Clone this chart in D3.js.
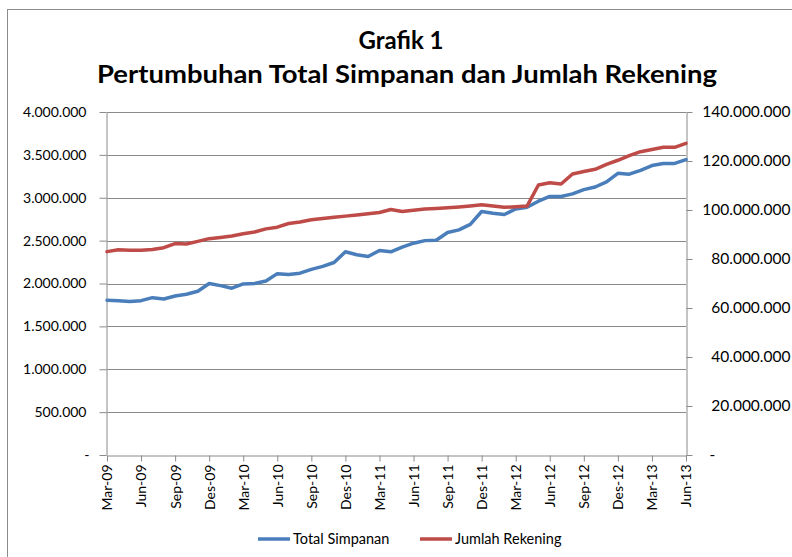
<!DOCTYPE html>
<html>
  <head>
    <meta charset="UTF-8" />
    <title>Grafik 1</title>
    <script src="https://cdn.jsdelivr.net/npm/d3@7"></script>
    <style>
      body {
        margin: 0;
        background: #fff;
      }
      text {
        font-family: Lato, "Open Sans", sans-serif;
        fill: #000;
      }
    </style>
  </head>
  <body>
    <div class="chart"></div>

    <script>
      // monthly data Mar-09 .. Jun-13
      const months = [
        "Mar-09", "Apr-09", "Mei-09", "Jun-09", "Jul-09", "Agu-09", "Sep-09", "Okt-09", "Nov-09", "Des-09",
        "Jan-10", "Feb-10", "Mar-10", "Apr-10", "Mei-10", "Jun-10", "Jul-10", "Agu-10", "Sep-10", "Okt-10", "Nov-10", "Des-10",
        "Jan-11", "Feb-11", "Mar-11", "Apr-11", "Mei-11", "Jun-11", "Jul-11", "Agu-11", "Sep-11", "Okt-11", "Nov-11", "Des-11",
        "Jan-12", "Feb-12", "Mar-12", "Apr-12", "Mei-12", "Jun-12", "Jul-12", "Agu-12", "Sep-12", "Okt-12", "Nov-12", "Des-12",
        "Jan-13", "Feb-13", "Mar-13", "Apr-13", "Mei-13", "Jun-13"
      ];

      // Total Simpanan (left axis)
      const totalSimpanan = [
        1805000, 1800000, 1790000, 1800000, 1835000, 1820000, 1855000, 1875000, 1910000, 2000000,
        1975000, 1945000, 1995000, 2000000, 2030000, 2115000, 2105000, 2120000, 2165000, 2200000, 2245000, 2370000,
        2335000, 2315000, 2385000, 2370000, 2425000, 2470000, 2500000, 2505000, 2595000, 2625000, 2690000, 2840000,
        2820000, 2805000, 2870000, 2890000, 2960000, 3015000, 3015000, 3045000, 3095000, 3125000, 3185000, 3285000,
        3275000, 3320000, 3375000, 3400000, 3400000, 3445000
      ];

      // Jumlah Rekening (right axis), in millions
      const jumlahRekening = [
        83.0, 83.8, 83.6, 83.6, 83.9, 84.6, 86.3, 86.1, 87.2, 88.3,
        88.8, 89.4, 90.3, 91.0, 92.3, 93.0, 94.5, 95.1, 96.0, 96.5, 97.0, 97.5,
        98.0, 98.5, 99.0, 100.2, 99.4, 99.9, 100.4, 100.6, 100.9, 101.2, 101.6, 102.1,
        101.6, 101.1, 101.3, 101.6, 110.2, 111.1, 110.6, 114.7, 115.7, 116.6, 118.6, 120.3,
        122.2, 123.8, 124.7, 125.6, 125.6, 127.2
      ].map((d) => d * 1e6);

      const leftTicks = [0, 500000, 1000000, 1500000, 2000000, 2500000, 3000000, 3500000, 4000000];
      const rightTicks = [0, 20e6, 40e6, 60e6, 80e6, 100e6, 120e6, 140e6];
      const xTickLabels = months.filter((d, i) => i % 3 === 0);

      const seriesNames = ["Total Simpanan", "Jumlah Rekening"];
      const colors = ["#4A7EBB", "#BE4B48"];

      let width = 792;
      let height = 557;
      let plot = { left: 107, right: 686, top: 112, bottom: 455 };

      let svg = d3
        .select(".chart")
        .append("svg")
        .attr("width", width)
        .attr("height", height);

      svg
        .append("rect")
        .attr("x", 7.5)
        .attr("y", 9.5)
        .attr("width", 820)
        .attr("height", 600)
        .attr("fill", "#fff")
        .attr("stroke", "#8c8c8c");

      // titles
      svg
        .append("text")
        .attr("x", 401)
        .attr("y", 49)
        .attr("text-anchor", "middle")
        .attr("font-size", 24)
        .attr("font-weight", "bold")
        .text("Grafik 1");
      svg
        .append("text")
        .attr("x", 407)
        .attr("y", 83)
        .attr("text-anchor", "middle")
        .attr("font-size", 25)
        .attr("font-weight", "bold")
        .attr("textLength", 620)
        .attr("lengthAdjust", "spacingAndGlyphs")
        .text("Pertumbuhan Total Simpanan dan Jumlah Rekening");

      let x = d3.scalePoint().domain(months).range([plot.left, plot.right]).padding(0);
      let yL = d3.scaleLinear().domain([0, 4000000]).range([plot.bottom, plot.top]);
      let yR = d3.scaleLinear().domain([0, 140e6]).range([plot.bottom, plot.top]);

      let locale = d3.formatLocale({ decimal: ",", thousands: ".", grouping: [3], currency: ["", ""] });
      let fmt = locale.format(",d");
      let tickFmt = (d) => (d === 0 ? "-" : fmt(d));

      // gridlines
      svg
        .append("g")
        .selectAll("line")
        .data(leftTicks.slice(1))
        .enter()
        .append("line")
        .attr("x1", plot.left)
        .attr("x2", plot.right)
        .attr("y1", (d) => Math.round(yL(d)) + 0.5)
        .attr("y2", (d) => Math.round(yL(d)) + 0.5)
        .attr("stroke", "#8a8a8a");

      // left axis
      let gL = svg
        .append("g")
        .attr("transform", `translate(${plot.left - 0.5},0)`)
        .call(d3.axisLeft(yL).tickValues(leftTicks).tickFormat(tickFmt).tickSize(7).tickSizeOuter(0).tickPadding(13));

      // right axis
      let gR = svg
        .append("g")
        .attr("transform", `translate(${plot.right + 0.5},0)`)
        .call(d3.axisRight(yR).tickValues(rightTicks).tickFormat(tickFmt).tickSize(6).tickSizeOuter(0).tickPadding(14));

      // bottom axis
      let gB = svg
        .append("g")
        .attr("transform", `translate(0,${plot.bottom + 0.5})`)
        .call(d3.axisBottom(x).tickValues(xTickLabels).tickSize(6).tickSizeOuter(0).tickPadding(8));

      [gL, gR, gB].forEach((g) => {
        g.select(".domain").attr("stroke", "#8a8a8a");
        g.selectAll(".tick line").attr("stroke", "#8a8a8a");
        g.selectAll(".tick text").attr("font-family", "Lato, sans-serif").attr("font-size", 14).attr("fill", "#000");
      });

      gL.selectAll(".tick text").attr("x", -20);
      gL.selectAll(".tick text").filter((d) => d === 0).attr("x", -17);
      gR.selectAll(".tick text").attr("text-anchor", "end").attr("x", 104).attr("font-size", 15.5);
      gR.selectAll(".tick text").filter((d) => d === 0).attr("text-anchor", "start").attr("x", 23);

      gB.selectAll(".tick text")
        .attr("transform", "rotate(-90)")
        .attr("text-anchor", "end")
        .attr("x", -9)
        .attr("y", 0)
        .attr("dy", "0.35em");

      // lines
      let lineL = d3
        .line()
        .x((d, i) => x(months[i]))
        .y((d) => yL(d));
      let lineR = d3
        .line()
        .x((d, i) => x(months[i]))
        .y((d) => yR(d));

      svg
        .append("path")
        .datum(totalSimpanan)
        .attr("fill", "none")
        .attr("stroke", colors[0])
        .attr("stroke-width", 3.5)
        .attr("stroke-linejoin", "round")
        .attr("stroke-linecap", "round")
        .attr("d", lineL);

      svg
        .append("path")
        .datum(jumlahRekening)
        .attr("fill", "none")
        .attr("stroke", colors[1])
        .attr("stroke-width", 3.5)
        .attr("stroke-linejoin", "round")
        .attr("stroke-linecap", "round")
        .attr("d", lineR);

      // legend
      let legendX = [258, 420];
      let legend = svg
        .append("g")
        .selectAll("g")
        .data(seriesNames)
        .enter()
        .append("g")
        .attr("transform", (d, i) => `translate(${legendX[i]},539)`);
      legend
        .append("line")
        .attr("x1", 0)
        .attr("x2", 32)
        .attr("stroke", (d, i) => colors[i])
        .attr("stroke-width", 3.5);
      legend
        .append("text")
        .attr("x", 35)
        .attr("dy", "0.35em")
        .attr("font-size", 14.5)
        .text((d) => d);
    </script>
  </body>
</html>
